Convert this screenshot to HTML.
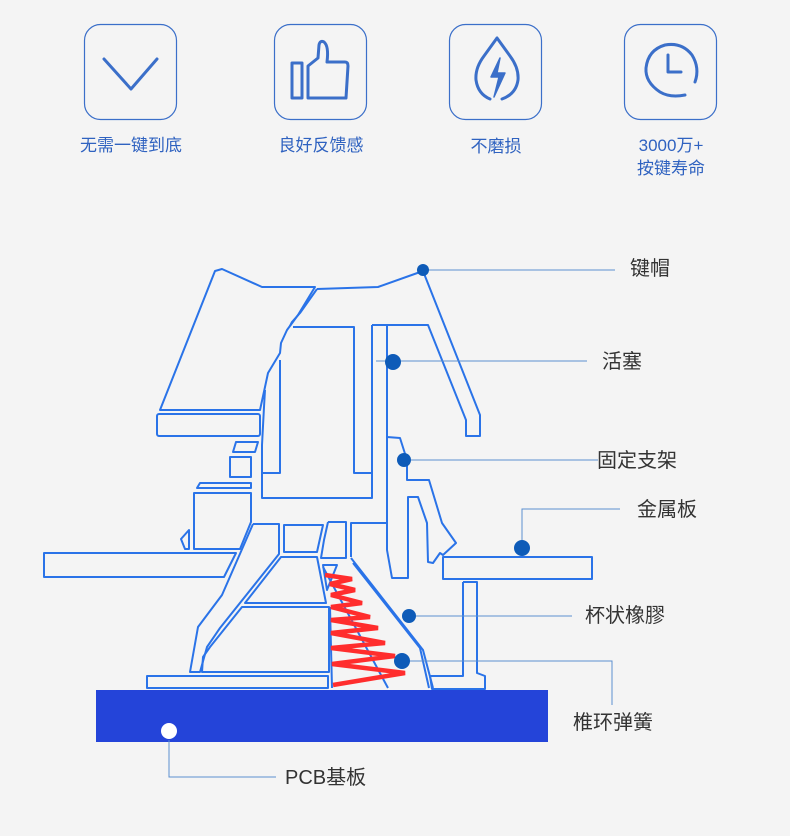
<!DOCTYPE html>
<html><head><meta charset="utf-8"><style>
body{margin:0;background:#f4f4f4;}
svg{display:block}
text{font-family:"Liberation Sans","Noto Sans CJK SC",sans-serif;}
</style></head><body>
<svg width="790" height="836" viewBox="0 0 790 836" xmlns="http://www.w3.org/2000/svg">
<rect width="790" height="836" fill="#f4f4f4"/>
<g fill="none" stroke="#3b6fc9" stroke-width="1.2">
<rect x="84.5" y="24.5" width="92" height="95" rx="16"/>
<rect x="274.5" y="24.5" width="92" height="95" rx="16"/>
<rect x="449.5" y="24.5" width="92" height="95" rx="16"/>
<rect x="624.5" y="24.5" width="92" height="95" rx="16"/>
</g>
<g fill="none" stroke="#3b6fc9" stroke-width="3" stroke-linecap="round" stroke-linejoin="round">
<polyline points="104,59 131,89 157,59"/>
<rect x="292" y="63" width="10" height="35"/>
<path d="M308,98 V66 L318,58 L319,45 Q320,40 324,42 Q329,46 327,62 H345 Q348,62 348,66 L346,98 Z"/>
<path d="M502,99 Q516,94 518,80 Q519,68 510,56 L497,38 L484,56 Q475,68 476,80 Q478,94 490,99"/>
<path d="M500,58 L491,77 L499,77 L494,97 L505,73 L497,73 Z" fill="#3b6fc9" stroke-width="1.5"/>
<path d="M685,95 Q670,98 660,92 Q645,82 646,68 Q648,50 665,45 Q682,42 692,55 Q700,68 695,82"/>
<polyline points="668,55 668,72 681,72"/>
</g>
<g fill="#2f62c0" font-size="17" text-anchor="middle">
<text x="131" y="151">无需一键到底</text>
<text x="321" y="151">良好反馈感</text>
<text x="496" y="152">不磨损</text>
<text x="671" y="151">3000万+</text>
<text x="671" y="174">按键寿命</text>
</g>
<rect x="96" y="690" width="452" height="52" fill="#2444d9"/>
<g fill="none" stroke="#2a73e8" stroke-width="2" stroke-linejoin="round">
<polygon points="160,410 215,271 222,269 262,287 315,287 298,315 287,330 281,343 280,353 268,373 265,387 260,410"/>
<polyline points="317,289 378,287 423,271 480,415 480,436 466,436 466,420 428,325 372,325"/>
<polyline points="317,289 300,313 292,322 290,326"/>
<polyline points="293,327 354,327 354,473 372,473 372,498 262,498 262,445 264,407 265,390"/>
<polyline points="280,360 280,473 262,473"/>
<rect x="157" y="414" width="103" height="22" rx="2"/>
<polygon points="233,452 236,442 258,442 255,452"/>
<rect x="230" y="457" width="21" height="20"/>
<polyline points="372,325 372,473"/>
<polyline points="387,325 387,550 392,578 408,578 408,497 418,497 427,523 428,562 433,563 440,553 443,555 456,543 442,523 429,480 407,480 407,460 400,438 387,437"/>
<polyline points="387,523 351,523 351,557"/>
<polygon points="44,553 236,553 224,577 44,577"/>
<polygon points="194,493 251,493 251,522 240,549 194,549"/>
<polygon points="200,483 251,483 251,488 197,488"/>
<polygon points="181,539 189,530 189,549 185,549"/>
<polyline points="253,524 279,524 279,554 220,628 207,647 200,672 190,672 198,627 222,595 253,524"/>
<polygon points="281,557 317,557 326,603 245,603"/>
<polygon points="242,607 329,607 329,672 202,672 203,657 210,647"/>
<polygon points="284,525 323,525 317,552 284,552"/>
<polyline points="328,522 346,522 346,558 321,558 324,540 328,522"/>
<polygon points="323,565 337,565 327,590"/>
<rect x="147" y="676" width="181" height="12"/>
<polyline points="351,558 423,650 433,688"/>
<polyline points="353,563 420,648 429,688"/>
<polyline points="323,567 388,688"/>
<polyline points="330,607 332,688"/>
<rect x="443" y="557" width="149" height="22"/>
<polyline points="463,582 477,582 477,673 485,676 485,689 432,689 430,676 463,676 463,582"/>
</g>
<polyline fill="none" stroke="#ff2d2d" stroke-width="4.5" points="325,575 352,579 330,584 355,590 331,595 362,603 331,607 370,617 331,620 378,628 331,633 385,643 331,648 395,656 332,664 405,673 333,685"/>
<g stroke="#5b8fd0" stroke-width="1" fill="none">
<polyline points="423,270 615,270"/>
<polyline points="376,361 587,361"/>
<polyline points="404,460 598,460"/>
<polyline points="522,548 522,509 620,509"/>
<polyline points="409,616 572,616"/>
<polyline points="402,661 612,661 612,705"/>
<polyline points="169,740 169,777 276,777"/>
</g>
<g fill="#0e5bb8">
<circle cx="423" cy="270" r="6"/>
<circle cx="393" cy="362" r="8"/>
<circle cx="404" cy="460" r="7"/>
<circle cx="522" cy="548" r="8"/>
<circle cx="409" cy="616" r="7"/>
<circle cx="402" cy="661" r="8"/>
</g>
<circle cx="169" cy="731" r="8" fill="#fff"/>
<g fill="#333" font-size="20">
<text x="630" y="275">键帽</text>
<text x="602" y="368">活塞</text>
<text x="597" y="467">固定支架</text>
<text x="637" y="516">金属板</text>
<text x="585" y="622">杯状橡膠</text>
<text x="573" y="729">椎环弹簧</text>
<text x="285" y="784">PCB基板</text>
</g>
</svg>
</body></html>
